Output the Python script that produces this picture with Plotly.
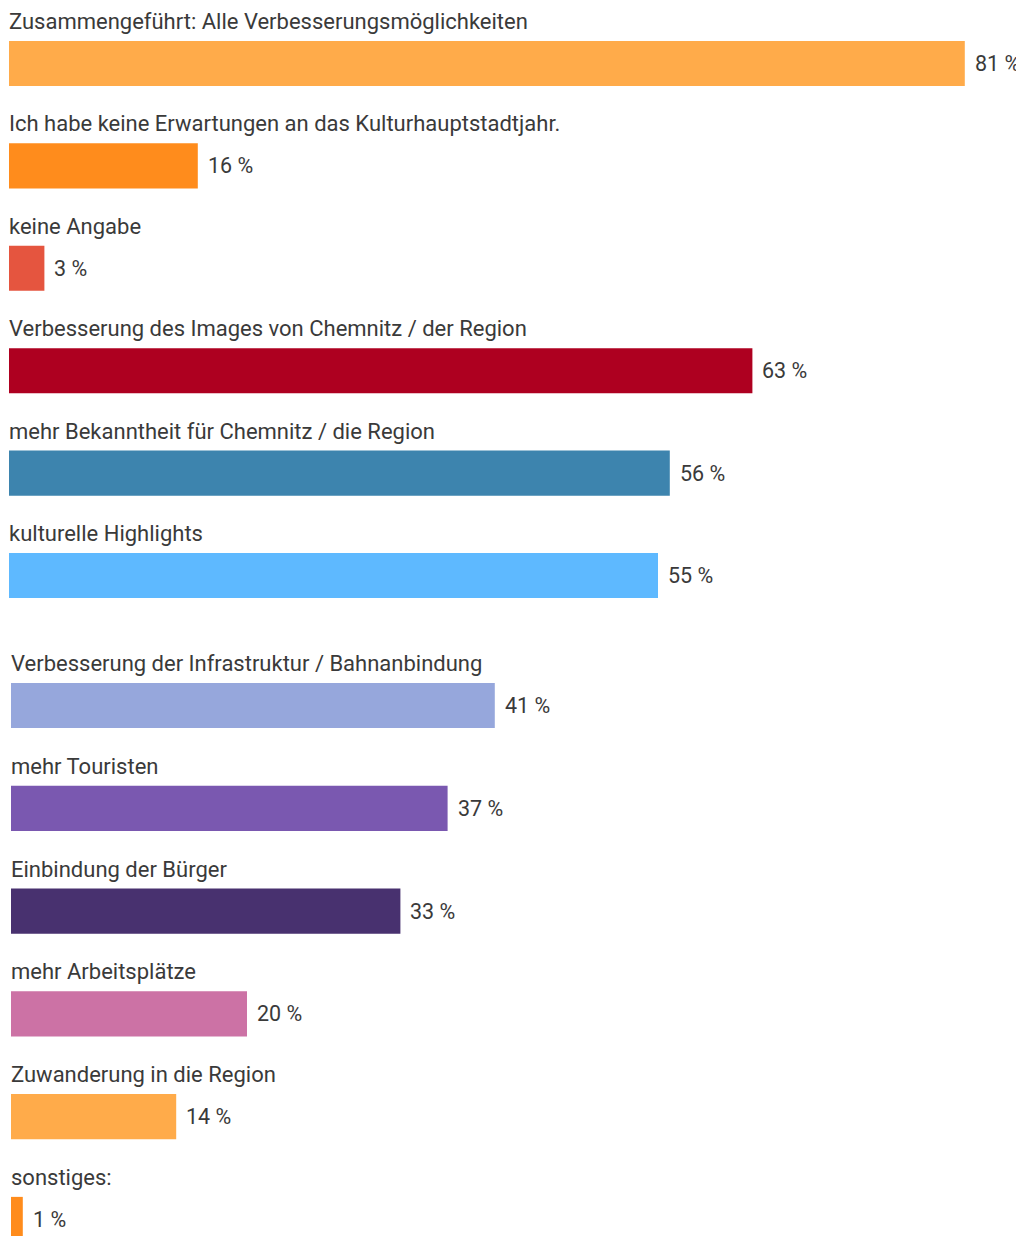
import plotly.graph_objects as go

labels_top = [
    "Zusammengeführt: Alle Verbesserungsmöglichkeiten",
    "Ich habe keine Erwartungen an das Kulturhauptstadtjahr.",
    "keine Angabe",
    "Verbesserung des Images von Chemnitz / der Region",
    "mehr Bekanntheit für Chemnitz / die Region",
    "kulturelle Highlights",
]
values_top = [81, 16, 3, 63, 56, 55]
colors_top = ["#ffab4a", "#ff8c1c", "#e5553f", "#ae0020", "#3d84ae", "#5eb9ff"]

labels_bottom = [
    "Verbesserung der Infrastruktur / Bahnanbindung",
    "mehr Touristen",
    "Einbindung der Bürger",
    "mehr Arbeitsplätze",
    "Zuwanderung in die Region",
    "sonstiges:",
]
values_bottom = [41, 37, 33, 20, 14, 1]
colors_bottom = ["#96a7dc", "#7a58b0", "#48316f", "#cc72a5", "#ffab4a", "#ff8c1c"]

FONT = "Roboto, 'Open Sans', sans-serif"
TXT = "#3a3a3a"

W, H = 1016, 1228
PX = 11.8  # pixels per percent

fig = go.Figure()
idx_top = list(range(len(values_top)))
idx_bot = list(range(len(values_bottom)))

fig.add_trace(go.Bar(x=values_top, y=idx_top, orientation="h", marker_color=colors_top,
                     marker_line_width=0, width=0.44, xaxis="x", yaxis="y", hoverinfo="skip"))
fig.add_trace(go.Bar(x=values_bottom, y=idx_bot, orientation="h", marker_color=colors_bottom,
                     marker_line_width=0, width=0.44, xaxis="x2", yaxis="y2", hoverinfo="skip"))

ann = []
for xr, yr, labs, vals in (("x", "y", labels_top, values_top), ("x2", "y2", labels_bottom, values_bottom)):
    for i, (lab, v) in enumerate(zip(labs, vals)):
        ann.append(dict(x=0, y=i, xref=xr, yref=yr, text=lab, showarrow=False,
                        xanchor="left", yanchor="middle", yshift=42, xshift=-2,
                        font=dict(family=FONT, size=22, color=TXT)))
        ann.append(dict(x=v, y=i, xref=xr, yref=yr, text=f"{v} %", showarrow=False,
                        xanchor="left", yanchor="middle", xshift=8,
                        font=dict(family=FONT, size=21.5, color=TXT)))

# bottom group: slot spacing ~102.8 px; last bar runs to the bottom edge
bot_top_px = 646.1
bot_span_slots = (H - bot_top_px) / 102.8

ax_common = dict(showgrid=False, zeroline=False, showticklabels=False, showline=False, fixedrange=True)
fig.update_layout(
    width=W, height=H,
    margin=dict(l=0, r=0, t=0, b=0),
    paper_bgcolor="white", plot_bgcolor="white",
    showlegend=False,
    xaxis=dict(domain=[1/W, 1], range=[0, (W - 1)/PX], anchor="y", **ax_common),
    xaxis2=dict(domain=[3/W, 1], range=[0, (W - 3)/PX], anchor="y2", **ax_common),
    yaxis=dict(domain=[1 - 618.7/H, 1 - 4.3/H], range=[5.5, -0.5], anchor="x", **ax_common),
    yaxis2=dict(domain=[0, 1 - bot_top_px/H], range=[-0.5 + bot_span_slots, -0.5], anchor="x2", **ax_common),
    annotations=ann,
    font=dict(family=FONT),
)

fig.write_html("out.html")
